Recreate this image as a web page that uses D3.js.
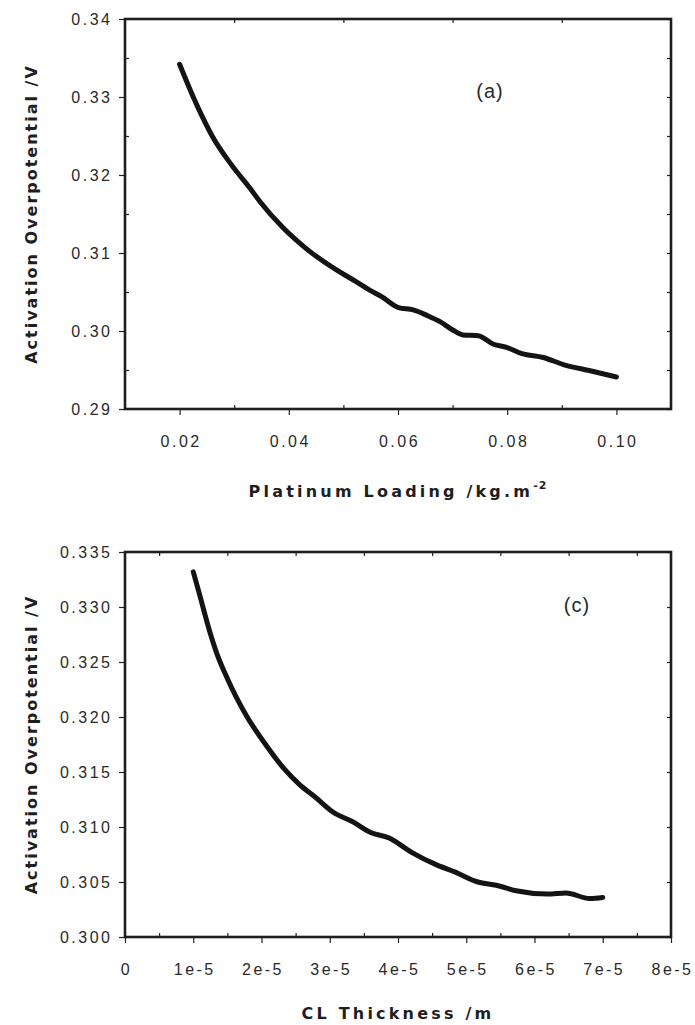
<!DOCTYPE html>
<html lang="en">
<head>
  <meta charset="UTF-8">
  <title>activation overpotential</title>
  <script src="https://d3js.org/d3.v7.min.js" charset="utf-8"></script>
  <style>
    body { margin: 0; background: #fff; }
    .tick text { font-family: "Liberation Sans", Arial, sans-serif; font-size: 16px; fill: #2a2a2a; letter-spacing: 2.5px; }
    .title { font-family: "DejaVu Sans", Verdana, sans-serif; font-weight: bold; font-size: 16px; fill: #1e1e1e; letter-spacing: 3.2px; }
    .ytitle { letter-spacing: 2px; }
    .tag { font-family: "Liberation Sans", Arial, sans-serif; font-size: 20px; fill: #2a2a2a; letter-spacing: 1px; }
  </style>
</head>
<body>
</body>
<script>
  // (a) platinum loading vs activation overpotential
  var loading = [0.0200, 0.0225, 0.0240, 0.0262, 0.0295, 0.0329, 0.0347, 0.0390, 0.0433, 0.0488, 0.0524, 0.0549, 0.0570, 0.0601,
                 0.0628, 0.0653, 0.0677, 0.0701, 0.0719, 0.0747, 0.0775, 0.0799, 0.0827, 0.0866, 0.0903, 0.0952, 0.1000]
  var overpotA = [0.3342, 0.3300, 0.3277, 0.3247, 0.3213, 0.3183, 0.3166, 0.3132, 0.3105, 0.3078, 0.3063, 0.3052, 0.3044, 0.3030,
                  0.3027, 0.3020, 0.3012, 0.3001, 0.2995, 0.2994, 0.2983, 0.2979, 0.2971, 0.2966, 0.2957, 0.2949, 0.2941]
  // (c) CL thickness vs activation overpotential
  var thickness = [1.00e-5, 1.09e-5, 1.25e-5, 1.35e-5, 1.47e-5, 1.63e-5, 1.79e-5, 2.06e-5, 2.33e-5, 2.55e-5, 2.79e-5, 3.06e-5, 3.33e-5,
                   3.60e-5, 3.87e-5, 4.20e-5, 4.55e-5, 4.84e-5, 5.17e-5, 5.44e-5, 5.73e-5, 6.19e-5, 6.46e-5, 6.81e-5, 7.00e-5]
  var overpotC = [0.3332, 0.3312, 0.3276, 0.3257, 0.3239, 0.3218, 0.3200, 0.3175, 0.3153, 0.3139, 0.3127, 0.3113, 0.3105,
                  0.3095, 0.3090, 0.3077, 0.3066, 0.3059, 0.3050, 0.3047, 0.3042, 0.3039, 0.3040, 0.3035, 0.3036]

  // ticks
  var xTicksA = [0.02, 0.04, 0.06, 0.08, 0.10]
  var xMinorA = [0.03, 0.05, 0.07, 0.09]
  var yTicksA = [0.29, 0.30, 0.31, 0.32, 0.33, 0.34]
  var yMinorA = [0.295, 0.305, 0.315, 0.325, 0.335]
  var xTicksC = [0, 1e-5, 2e-5, 3e-5, 4e-5, 5e-5, 6e-5, 7e-5, 8e-5]
  var xMinorC = [0.5e-5, 1.5e-5, 2.5e-5, 3.5e-5, 4.5e-5, 5.5e-5, 6.5e-5, 7.5e-5]
  var yTicksC = [0.300, 0.305, 0.310, 0.315, 0.320, 0.325, 0.330, 0.335]

  var svg = d3.select('body').append('svg').attr('width', 695).attr('height', 1025)

  function panel(opt) {
    var g = svg.append('g')
    var x = opt.x, y = opt.y
    var x0 = x.range()[0], x1 = x.range()[1], y0 = y.range()[0], y1 = y.range()[1]

    function clean(sel) {
      sel.select('.domain').remove()
      sel.selectAll('.tick line').attr('stroke', '#222').attr('stroke-width', 1.2)
    }
    // major outward ticks with labels
    g.append('g').attr('transform', 'translate(0,' + y0 + ')')
      .call(d3.axisBottom(x).tickValues(opt.xTicks).tickSize(6).tickPadding(21).tickFormat(opt.xFmt))
      .call(clean)
      .selectAll('.tick text').attr('dx', '1px')
    g.append('g').attr('transform', 'translate(' + x0 + ',0)')
      .call(d3.axisLeft(y).tickValues(opt.yTicks).tickSize(6).tickPadding(9).tickFormat(opt.yFmt))
      .call(clean)
      .selectAll('.tick text').attr('dx', '2.5px')
    // inward minor ticks
    g.append('g').attr('transform', 'translate(0,' + y0 + ')')
      .call(d3.axisBottom(x).tickValues(opt.xMinor).tickSize(-4).tickFormat(''))
      .call(clean)
    g.append('g').attr('transform', 'translate(0,' + y1 + ')')
      .call(d3.axisTop(x).tickValues(opt.xMinor).tickSize(-4).tickFormat(''))
      .call(clean)
    if (opt.yMinor.length) {
      g.append('g').attr('transform', 'translate(' + x0 + ',0)')
        .call(d3.axisLeft(y).tickValues(opt.yMinor).tickSize(-4).tickFormat(''))
        .call(clean)
    }
    g.append('g').attr('transform', 'translate(' + x1 + ',0)')
      .call(d3.axisRight(y).tickValues(opt.yTicks.concat(opt.yMinor)).tickSize(-4).tickFormat(''))
      .call(clean)

    // frame
    g.append('rect').attr('x', x0).attr('y', y1).attr('width', x1 - x0).attr('height', y0 - y1)
      .attr('fill', 'none').attr('stroke', '#1e1e1e').attr('stroke-width', 2.6)

    // curve
    var line = d3.line().x(function(d) { return x(d[0]) }).y(function(d) { return y(d[1]) }).curve(d3.curveMonotoneX)
    g.append('path').datum(d3.zip(opt.xs, opt.ys)).attr('d', line)
      .attr('fill', 'none').attr('stroke', '#141414').attr('stroke-width', 5).attr('stroke-linecap', 'round')

    // labels
    g.append('text').attr('class', 'tag').attr('x', opt.tag[0]).attr('y', opt.tag[1]).attr('text-anchor', 'middle').text(opt.tagText)
    g.append('text').attr('class', 'title ytitle')
      .attr('transform', 'translate(37,' + ((y0 + y1) / 2) + ') rotate(-90)')
      .attr('text-anchor', 'middle').text('Activation Overpotential /V')
    var xt = g.append('text').attr('class', 'title').attr('x', (x0 + x1) / 2).attr('y', opt.xTitleY).attr('text-anchor', 'middle')
    xt.append('tspan').text(opt.xTitle)
    if (opt.sup) {
      xt.append('tspan').attr('dy', -8).attr('font-size', '11px').attr('letter-spacing', '1px').text(opt.sup)
    }
  }

  panel({
    x: d3.scaleLinear().domain([0.01, 0.11]).range([125, 671]),
    y: d3.scaleLinear().domain([0.29, 0.34]).range([409, 19]),
    xTicks: xTicksA, xMinor: xMinorA, yTicks: yTicksA, yMinor: yMinorA,
    xFmt: d3.format('.2f'), yFmt: d3.format('.2f'),
    xs: loading, ys: overpotA,
    tag: [490, 98], tagText: '(a)',
    xTitle: 'Platinum Loading /kg.m', sup: '-2', xTitleY: 497
  })

  panel({
    x: d3.scaleLinear().domain([0, 8e-5]).range([125, 671]),
    y: d3.scaleLinear().domain([0.300, 0.335]).range([937, 552]),
    xTicks: xTicksC, xMinor: xMinorC, yTicks: yTicksC, yMinor: [],
    xFmt: function(d) { return d === 0 ? '0' : Math.round(d / 1e-5) + 'e-5' }, yFmt: d3.format('.3f'),
    xs: thickness, ys: overpotC,
    tag: [577, 612], tagText: '(c)',
    xTitle: 'CL Thickness /m', sup: null, xTitleY: 1019
  })
</script>
</html>
